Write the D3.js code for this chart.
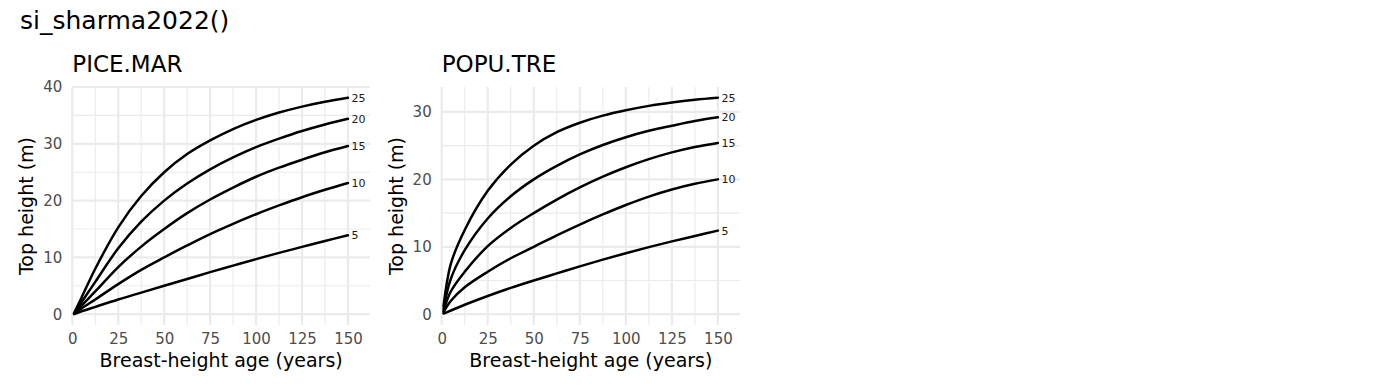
<!DOCTYPE html>
<html>
<head>
<meta charset="utf-8">
<script src="https://cdn.jsdelivr.net/npm/d3@7"></script>
<style>
  html, body { margin: 0; padding: 0; background: #ffffff; }
  svg { display: block; font-family: "DejaVu Sans", sans-serif; }
</style>
</head>
<body>
<svg id="chart" width="1400" height="392"></svg>
<script>
// ---- data ----
const chartTitle = "si_sharma2022()";
const panelNames = ["PICE.MAR", "POPU.TRE"];
const ages = [1, 5, 12.5, 25, 37.5, 50, 62.5, 75, 87.5, 100, 112.5, 125, 137.5, 150];
const siLabels = ["5", "10", "15", "20", "25"];

// PICE.MAR top height (m) by site index class
const piceSI5  = [0.03, 0.5, 1.3, 2.6, 3.8, 5.0, 6.2, 7.4, 8.55, 9.7, 10.8, 11.85, 12.9, 13.9];
const piceSI10 = [0.05, 1.0, 2.6, 5.3, 7.8, 10.0, 12.1, 14.1, 15.9, 17.6, 19.15, 20.6, 21.9, 23.1];
const piceSI15 = [0.1, 1.5, 4.0, 8.3, 11.9, 15.0, 17.8, 20.2, 22.3, 24.2, 25.8, 27.2, 28.5, 29.6];
const piceSI20 = [0.15, 2.1, 5.7, 11.6, 16.3, 20.0, 23.0, 25.5, 27.6, 29.4, 30.9, 32.25, 33.4, 34.4];
const piceSI25 = [0.2, 2.9, 8.0, 15.3, 20.8, 25.0, 28.2, 30.6, 32.6, 34.2, 35.5, 36.55, 37.4, 38.1];

// POPU.TRE top height (m) by site index class
const popuSI5  = [0.1, 0.55, 1.4, 2.7, 3.9, 5.0, 6.05, 7.1, 8.1, 9.05, 9.95, 10.8, 11.6, 12.4];
const popuSI10 = [0.3, 2.0, 4.0, 6.3, 8.3, 10.0, 11.7, 13.3, 14.8, 16.2, 17.45, 18.5, 19.35, 20.0];
const popuSI15 = [0.5, 3.4, 6.3, 10.1, 12.8, 15.0, 17.0, 18.8, 20.4, 21.8, 23.0, 24.0, 24.8, 25.4];
const popuSI20 = [0.8, 5.3, 9.5, 14.2, 17.5, 20.0, 22.0, 23.7, 25.1, 26.25, 27.2, 27.95, 28.65, 29.2];
const popuSI25 = [1.2, 7.5, 12.5, 18.3, 22.2, 25.0, 27.0, 28.4, 29.45, 30.25, 30.9, 31.4, 31.8, 32.1];

const xTicks = [0, 25, 50, 75, 100, 125, 150];
const xMinor = [12.5, 37.5, 62.5, 87.5, 112.5, 137.5];
const yTicksPice = [0, 10, 20, 30, 40];
const yMinorPice = [5, 15, 25, 35];
const yTicksPopu = [0, 10, 20, 30];
const yMinorPopu = [5, 15, 25];
const xTitle = "Breast-height age (years)";
const yTitle = "Top height (m)";

// ---- layout ----
const svg = d3.select("#chart");
svg.append("rect").attr("width", 1400).attr("height", 392).attr("fill", "#fff");

svg.append("text")
  .attr("x", 20).attr("y", 29)
  .attr("font-size", 25).attr("fill", "#000")
  .text(chartTitle);

const panels = [
  {
    name: panelNames[0],
    series: [piceSI5, piceSI10, piceSI15, piceSI20, piceSI25],
    xRange: [72.3, 370], yDomain: [-1.9, 40], yTicks: yTicksPice, yMinor: yMinorPice,
    yTitleX: 33
  },
  {
    name: panelNames[1],
    series: [popuSI5, popuSI10, popuSI15, popuSI20, popuSI25],
    xRange: [441.7, 740], yDomain: [-1.6, 33.7], yTicks: yTicksPopu, yMinor: yMinorPopu,
    yTitleX: 403
  }
];

const panelTop = 87, panelBottom = 325;

panels.forEach(p => {
  const x = d3.scaleLinear().domain([0, 162]).range(p.xRange);
  const y = d3.scaleLinear().domain(p.yDomain).range([panelBottom, panelTop]);
  const g = svg.append("g");

  // minor grid
  g.selectAll(".vminor").data(xMinor).enter().append("line")
    .attr("x1", d => x(d)).attr("x2", d => x(d))
    .attr("y1", panelTop).attr("y2", panelBottom)
    .attr("stroke", "#ebebeb").attr("stroke-width", 1.1);
  g.selectAll(".hminor").data(p.yMinor).enter().append("line")
    .attr("x1", p.xRange[0]).attr("x2", p.xRange[1])
    .attr("y1", d => y(d)).attr("y2", d => y(d))
    .attr("stroke", "#ebebeb").attr("stroke-width", 1.1);
  // major grid
  g.selectAll(".vmajor").data(xTicks).enter().append("line")
    .attr("x1", d => x(d)).attr("x2", d => x(d))
    .attr("y1", panelTop).attr("y2", panelBottom)
    .attr("stroke", "#ebebeb").attr("stroke-width", 2.2);
  g.selectAll(".hmajor").data(p.yTicks).enter().append("line")
    .attr("x1", p.xRange[0]).attr("x2", p.xRange[1])
    .attr("y1", d => y(d)).attr("y2", d => y(d))
    .attr("stroke", "#ebebeb").attr("stroke-width", 2.2);

  // axes (text only, theme_minimal style)
  const xAxis = g.append("g").attr("transform", `translate(0,${panelBottom})`)
    .call(d3.axisBottom(x).tickValues(xTicks).tickSize(0).tickPadding(0));
  xAxis.select(".domain").remove();
  xAxis.selectAll("text")
    .attr("y", 19).attr("dy", null)
    .attr("font-size", 15).attr("fill", "#4d4d4d")
    .attr("font-family", "DejaVu Sans, sans-serif");

  const yAxis = g.append("g").attr("transform", `translate(${p.xRange[0]},0)`)
    .call(d3.axisLeft(y).tickValues(p.yTicks).tickSize(0).tickPadding(10));
  yAxis.select(".domain").remove();
  yAxis.selectAll("text")
    .attr("font-size", 15).attr("fill", "#4d4d4d")
    .attr("font-family", "DejaVu Sans, sans-serif");

  // lines
  const line = d3.line()
    .x((d, i) => x(ages[i]))
    .y(d => y(d))
    .curve(d3.curveCatmullRom.alpha(0.5));
  g.selectAll(".curve").data(p.series).enter().append("path")
    .attr("d", d => line(d))
    .attr("fill", "none").attr("stroke", "#000").attr("stroke-width", 2.5)
    .attr("stroke-linejoin", "round").attr("stroke-linecap", "round");

  // end labels
  g.selectAll(".lab").data(p.series).enter().append("text")
    .attr("x", x(ages[ages.length - 1]) + 3.5)
    .attr("y", d => y(d[d.length - 1]))
    .attr("dy", "0.36em")
    .attr("font-size", 11).attr("fill", "#1a1a1a")
    .text((d, i) => siLabels[i]);

  // panel title
  g.append("text")
    .attr("x", p.xRange[0]).attr("y", 72)
    .attr("font-size", 23).attr("fill", "#000")
    .text(p.name);

  // axis titles
  g.append("text")
    .attr("x", (p.xRange[0] + p.xRange[1]) / 2).attr("y", 367)
    .attr("text-anchor", "middle")
    .attr("font-size", 19).attr("fill", "#000")
    .text(xTitle);
  g.append("text")
    .attr("transform", `translate(${p.yTitleX},${(panelTop + panelBottom) / 2}) rotate(-90)`)
    .attr("text-anchor", "middle")
    .attr("font-size", 19).attr("fill", "#000")
    .text(yTitle);
});
</script>
</body>
</html>
